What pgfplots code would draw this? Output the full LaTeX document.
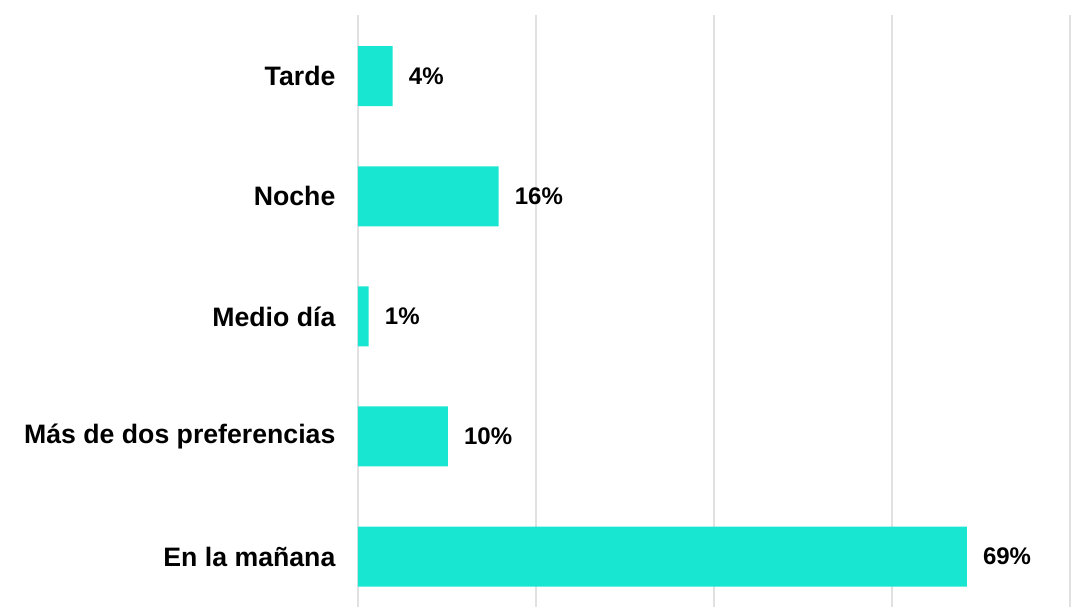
\documentclass[border=0pt]{standalone}
\usepackage{pgfplots}
\pgfplotsset{compat=1.18}
\usepackage{fontspec}
\setmainfont{Liberation Sans}
\definecolor{barcol}{HTML}{19E6D1}
\definecolor{gridcol}{HTML}{E1E1E1}

\begin{document}
\begin{tikzpicture}
\useasboundingbox (-268.5pt,-1.5pt) rectangle (539.25pt,455.25pt);
\begin{axis}[
    at={(0,0)}, anchor=south west,
    scale only axis,
    width=534pt, height=444pt,
    xbar, bar width=45pt,
    xmin=0, xmax=80,
    ymin=-0.42, ymax=4.51,
    xtick={0,20,...,80},
    xticklabels={},
    xmajorgrids,
    major grid style={gridcol, line width=1.5pt},
    ytick={0,1,2,3,4},
    yticklabels={En la mañana, Más de dos preferencias, Medio día, Noche, Tarde},
    y tick label style={font=\fontsize{20}{24}\selectfont\bfseries, inner sep=0pt, xshift=-12.5pt},
    axis line style={draw=none},
    tick style={draw=none},
    nodes near coords,
    point meta=explicit symbolic,
    nodes near coords style={font=\fontsize{18}{21}\selectfont\bfseries, inner sep=0pt, anchor=west, xshift=12pt},
]
\addplot[fill=barcol, draw=none] coordinates {
    (68.4,0) [69\%]
    (10.1,1) [10\%]
    (1.2,2) [1\%]
    (15.8,3) [16\%]
    (3.9,4) [4\%]
};
\end{axis}
\end{tikzpicture}
\end{document}
